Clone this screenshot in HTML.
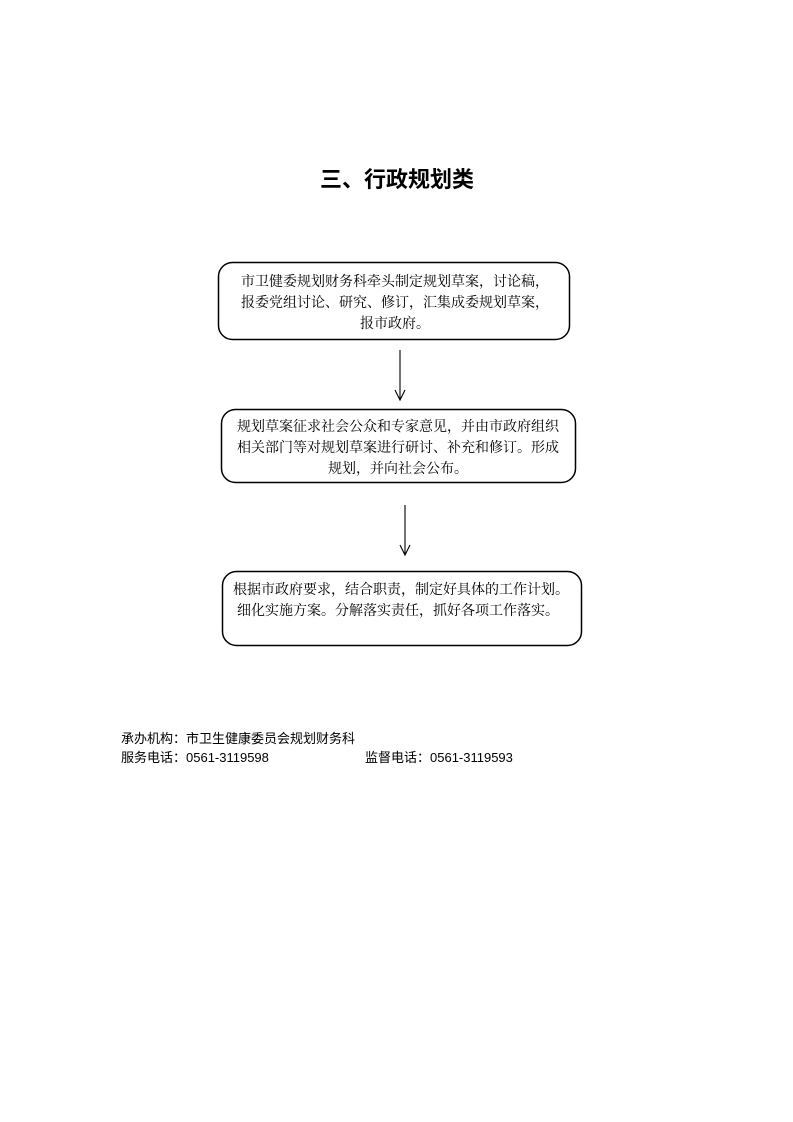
<!DOCTYPE html>
<html><head><meta charset="utf-8"><style>
body{margin:0;background:#fff;}
svg{display:block}
text{font-family:"Liberation Serif","Noto Serif CJK SC",serif;font-size:14px;fill:#000}
.s{font-family:"Liberation Sans","Noto Sans CJK SC",sans-serif;font-size:13px}
</style></head><body>
<svg width="793" height="1122" viewBox="0 0 793 1122">
<text x="397" y="187" text-anchor="middle" style="font-family:'Liberation Sans','Noto Sans CJK SC',sans-serif;font-size:22px;font-weight:bold">三、行政规划类</text>
<g fill="none" stroke="#000" stroke-width="1.5">
<rect x="218.5" y="262.5" width="351" height="77" rx="14"/>
<rect x="221.5" y="409.5" width="354" height="73" rx="14"/>
<rect x="222.5" y="571.5" width="359" height="74" rx="14"/>
</g>
<g fill="none" stroke="#000" stroke-width="1.1">
<line x1="400" y1="350" x2="400" y2="399"/>
<polyline points="395,390 400,400 405,390"/>
<line x1="405" y1="505" x2="405" y2="554"/>
<polyline points="400,545 405,555 410,545"/>
</g>
<text x="395" y="286" text-anchor="middle">市卫健委规划财务科牵头制定规划草案，讨论稿，</text>
<text x="395" y="307" text-anchor="middle">报委党组讨论、研究、修订，汇集成委规划草案，</text>
<text x="395" y="328" text-anchor="middle">报市政府。</text>
<text x="398" y="431" text-anchor="middle">规划草案征求社会公众和专家意见，并由市政府组织</text>
<text x="398" y="452" text-anchor="middle">相关部门等对规划草案进行研讨、补充和修订。形成</text>
<text x="398" y="473" text-anchor="middle">规划，并向社会公布。</text>
<text x="401" y="594" text-anchor="middle">根据市政府要求，结合职责，制定好具体的工作计划。</text>
<text x="398" y="615" text-anchor="middle">细化实施方案。分解落实责任，抓好各项工作落实。</text>
<text class="s" x="121" y="743">承办机构：市卫生健康委员会规划财务科</text>
<text class="s" x="121" y="762">服务电话：0561-3119598</text>
<text class="s" x="365" y="762">监督电话：0561-3119593</text>
</svg>
</body></html>
